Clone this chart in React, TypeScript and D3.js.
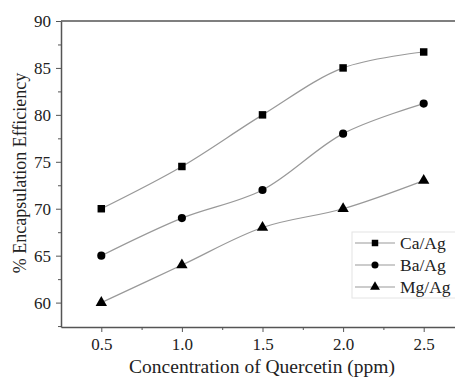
import React, { useEffect, useRef } from 'react';
import * as d3 from 'd3';

const width = 455;
const height = 381;
const margin = { top: 21, right: -9, bottom: 54, left: 61 };

const concentrations = [0.5, 1.0, 1.5, 2.0, 2.5];
const caAg = [70, 74.5, 80, 85, 86.7];
const baAg = [65, 69, 72, 78, 81.2];
const mgAg = [60, 64, 68, 70, 73];
const seriesNames = ['Ca/Ag', 'Ba/Ag', 'Mg/Ag'];
const xTicks = [0.5, 1.0, 1.5, 2.0, 2.5];
const yTicks = [60, 65, 70, 75, 80, 85, 90];

const font = "'Liberation Serif', 'Times New Roman', Times, serif";

export default function App() {
  const ref = useRef<SVGSVGElement>(null);

  useEffect(() => {
    const svg = d3.select(ref.current);
    svg.selectAll('*').remove();

    const x = d3.scaleLinear().domain([0.25, 2.75]).range([margin.left, width - margin.right]);
    const y = d3.scaleLinear().domain([57.4, 90]).range([height - margin.bottom, margin.top]);

    const series = [caAg, baAg, mgAg];
    const symbols = [d3.symbolSquare, d3.symbolCircle, d3.symbolTriangle];
    const sizes = [56, 52, 56];

    // top frame line
    svg.append('line')
      .attr('x1', margin.left).attr('x2', width)
      .attr('y1', y(90)).attr('y2', y(90))
      .attr('stroke', '#555').attr('stroke-width', 1.3);

    // x axis
    const xAxis = svg.append('g').attr('transform', `translate(0, ${y(57.4)})`);
    xAxis.call(d3.axisBottom(x).tickValues(xTicks).tickFormat(d3.format('.1f')).tickSize(5).tickSizeOuter(0));
    xAxis.append('g').call(d3.axisBottom(x).tickValues([0.75, 1.25, 1.75, 2.25, 2.75]).tickSize(3).tickFormat(() => '').tickSizeOuter(0))
      .select('.domain').remove();
    xAxis.selectAll('.domain').attr('stroke', '#555').attr('stroke-width', 1.5);
    xAxis.selectAll('.tick line').attr('stroke', '#555');
    xAxis.selectAll('.tick text')
      .style('font-family', font).style('font-size', '17px').attr('fill', '#222')
      .attr('y', 23).attr('dy', 0);

    // y axis
    const yAxis = svg.append('g').attr('transform', `translate(${margin.left}, 0)`);
    yAxis.call(d3.axisLeft(y).tickValues(yTicks).tickSize(5).tickSizeOuter(0));
    yAxis.append('g').call(d3.axisLeft(y).tickValues([57.5, 62.5, 67.5, 72.5, 77.5, 82.5, 87.5]).tickSize(3).tickFormat(() => '').tickSizeOuter(0))
      .select('.domain').remove();
    yAxis.selectAll('.domain').attr('stroke', '#555').attr('stroke-width', 1.5);
    yAxis.selectAll('.tick line').attr('stroke', '#555');
    yAxis.selectAll('.tick text')
      .style('font-family', font).style('font-size', '17px').attr('fill', '#222').attr('x', -10);

    // axis titles
    svg.append('text')
      .attr('x', 262).attr('y', 373)
      .attr('text-anchor', 'middle')
      .style('font-family', font).style('font-size', '19.5px').attr('fill', '#222')
      .text('Concentration of Quercetin (ppm)');
    svg.append('text')
      .attr('transform', `translate(26, ${173}) rotate(-90)`)
      .attr('text-anchor', 'middle')
      .style('font-family', font).style('font-size', '18px').attr('fill', '#222')
      .text('% Encapsulation Efficiency');

    const line = d3.line<number>()
      .x((d, i) => x(concentrations[i]))
      .y(d => y(d))
      .curve(d3.curveCatmullRom.alpha(0.5));

    series.forEach((vals, s) => {
      svg.append('path')
        .attr('d', line(vals))
        .attr('fill', 'none')
        .attr('stroke', '#999')
        .attr('stroke-width', 1.2);
      svg.append('g').selectAll('path')
        .data(vals)
        .join('path')
        .attr('transform', (d, i) => `translate(${x(concentrations[i])}, ${y(d)})`)
        .attr('d', d3.symbol().type(symbols[s]).size(sizes[s])())
        .attr('fill', '#000');
    });

    // legend
    const legend = svg.append('g');
    legend.append('rect')
      .attr('x', 352).attr('y', 232).attr('width', 110).attr('height', 66)
      .attr('fill', '#fff').attr('stroke', '#e4e4e4');
    seriesNames.forEach((name, s) => {
      const ly = 243 + s * 22;
      legend.append('line')
        .attr('x1', 355).attr('x2', 395).attr('y1', ly).attr('y2', ly)
        .attr('stroke', '#999').attr('stroke-width', 1.2);
      legend.append('path')
        .attr('transform', `translate(375, ${ly})`)
        .attr('d', d3.symbol().type(symbols[s]).size(sizes[s] * 0.75)())
        .attr('fill', '#000');
      legend.append('text')
        .attr('x', 400).attr('y', ly + 6)
        .style('font-family', font).style('font-size', '17.5px').attr('fill', '#222')
        .text(name);
    });
  }, []);

  return (
    <svg
      ref={ref}
      width={width}
      height={height}
      style={{ position: 'absolute', left: 0, top: 0, background: '#fff', overflow: 'hidden' }}
    />
  );
}
